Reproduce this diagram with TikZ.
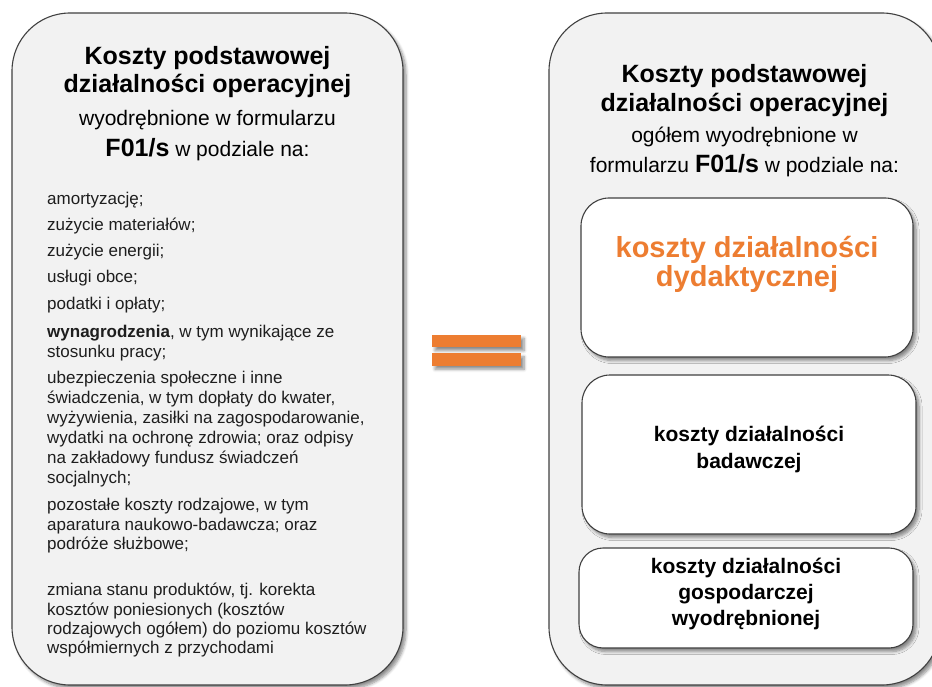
\documentclass[tikz,border=0pt]{standalone}
\usepackage{fontspec}
\setmainfont{Liberation Sans}
\usetikzlibrary{shadows.blur}
\definecolor{boxfill}{HTML}{F2F2F2}
\definecolor{boxline}{HTML}{404040}
\definecolor{eqorange}{HTML}{ED7D31}
\definecolor{txtgray}{HTML}{1E1E1E}
\tikzset{
  shad/.style={blur shadow={shadow xshift=3pt, shadow yshift=-3.5pt, shadow blur radius=3pt, shadow blur steps=6, shadow opacity=45}},
  outerbox/.style={shape=rectangle, draw=boxline, line width=1.1pt, fill=boxfill, rounded corners=58pt, inner sep=0pt, shad},
  innerbox/.style={shape=rectangle, draw=boxline, line width=1.1pt, fill=white, rounded corners=28pt, inner sep=0pt, shad},
  eqbar/.style={shape=rectangle, fill=eqorange, inner sep=0pt, minimum width=89pt, minimum height=12.5pt, shad},
  ttl/.style={anchor=base, inner sep=0pt, font=\fontsize{25}{30}\selectfont\bfseries},
  sub/.style={anchor=base, inner sep=0pt, font=\fontsize{21}{25}\selectfont},
  item/.style={anchor=base west, inner sep=0pt, font=\fontsize{17}{20}\selectfont, text=txtgray},
  orange/.style={anchor=base, inner sep=0pt, font=\fontsize{29}{32}\selectfont\bfseries, text=eqorange},
  boxtxt/.style={anchor=base, inner sep=0pt, font=\fontsize{21}{25}\selectfont\bfseries},
}
\newcommand{\Fbig}{{\fontsize{25}{30}\selectfont\bfseries F01/s}}
\begin{document}
\begin{tikzpicture}[x=1pt,y=-1pt]
\useasboundingbox (0,0) rectangle (932,687);
\begin{scope}
\clip (0,0) rectangle (932,687);
% outer boxes
\node[outerbox, minimum width=391pt, minimum height=672pt] (L) at (207.5,349) {};
\node[outerbox, minimum width=391pt, minimum height=672pt] (R) at (744.5,349) {};
% inner boxes
\node[innerbox, minimum width=332pt, minimum height=159pt] (B1) at (747,277.5) {};
\node[innerbox, minimum width=334pt, minimum height=159pt] (B2) at (749,454.5) {};
\node[innerbox, rounded corners=24pt, minimum width=334pt, minimum height=100pt] (B3) at (746,598) {};
% equal sign
\node[eqbar] (eq1) at (476.5,341) {};
\node[eqbar] (eq2) at (476.5,359.5) {};
\end{scope}
% left heading
\node[ttl] (lt1) at (207.5,65) {Koszty podstawowej};
\node[ttl] (lt2) at (207.5,93) {działalności operacyjnej};
\node[sub] (lt3) at (207.5,126) {wyodrębnione w formularzu};
\node[sub] (lt4) at (207.5,157) {\Fbig{} w podziale na:};
% left list
\node[item] (i1) at (47,205) {amortyzację;};
\node[item] (i2) at (47,231) {zużycie materiałów;};
\node[item] (i3) at (47,257) {zużycie energii;};
\node[item] (i4) at (47,283) {usługi obce;};
\node[item] (i5) at (47,309) {podatki i opłaty;};
\node[item] (i6a) at (47,337) {\textbf{wynagrodzenia}, w tym wynikające ze};
\node[item] (i6b) at (47,357) {stosunku pracy;};
\node[item] (i7a) at (47,383) {ubezpieczenia społeczne i inne};
\node[item] (i7b) at (47,403) {świadczenia, w tym dopłaty do kwater,};
\node[item] (i7c) at (47,423) {wyżywienia, zasiłki na zagospodarowanie,};
\node[item] (i7d) at (47,443) {wydatki na ochronę zdrowia; oraz odpisy};
\node[item] (i7e) at (47,463) {na zakładowy fundusz świadczeń};
\node[item] (i7f) at (47,483) {socjalnych;};
\node[item] (i8a) at (47,510) {pozostałe koszty rodzajowe, w tym};
\node[item] (i8b) at (47,530) {aparatura naukowo-badawcza; oraz};
\node[item] (i8c) at (47,549) {podróże służbowe;};
\node[item] (i9a) at (47,595) {zmiana stanu produktów, tj. korekta};
\node[item] (i9b) at (47,615) {kosztów poniesionych (kosztów};
\node[item] (i9c) at (47,634) {rodzajowych ogółem) do poziomu kosztów};
\node[item] (i9d) at (47,653) {współmiernych z przychodami};
% right heading
\node[ttl] (rt1) at (744.5,83) {Koszty podstawowej};
\node[ttl] (rt2) at (744.5,112) {działalności operacyjnej};
\node[sub] (rt3) at (744.5,143) {ogółem wyodrębnione w};
\node[sub] (rt4) at (744.5,173) {formularzu \Fbig{} w podziale na:};
% inner box texts
\node[orange] (o1) at (747,258) {koszty działalności};
\node[orange] (o2) at (747,287) {dydaktycznej};
\node[boxtxt] (b2a) at (749,441) {koszty działalności};
\node[boxtxt] (b2b) at (749,468) {badawczej};
\node[boxtxt] (b3a) at (746,573) {koszty działalności};
\node[boxtxt] (b3b) at (746,599) {gospodarczej};
\node[boxtxt] (b3c) at (746,625) {wyodrębnionej};
\end{tikzpicture}
\end{document}
